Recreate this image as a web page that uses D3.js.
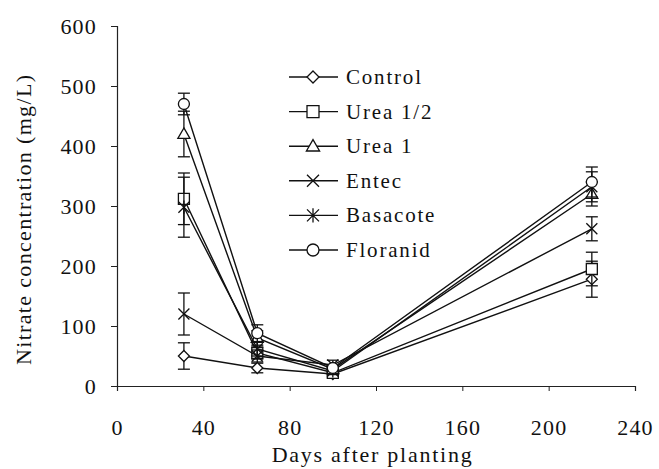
<!DOCTYPE html>
<html>
<head>
<meta charset="utf-8">
<script src="https://cdn.jsdelivr.net/npm/d3@7"></script>
<style>
body { margin: 0; background: #fff; }
svg text { font-family: 'Liberation Serif', 'Times New Roman', Times, serif !important; fill: #111; }
</style>
</head>
<body>
<div id="chart"></div>
<script>
var svgWidth = 659;
var svgHeight = 469;

var leftMargin = 117;
var topMargin = 26;
var chartWidth = 518;
var chartHeight = 360;

// data
var days = [31, 65, 100, 220];
var seriesNames = ['Control', 'Urea 1/2', 'Urea 1', 'Entec', 'Basacote', 'Floranid'];
var seriesMarkers = ['diamond', 'square', 'triangle', 'x', 'asterisk', 'circle'];
var controlValues = [50, 30, 20, 178];
var controlErr = [22, 8, 5, 30];
var urea12Values = [312, 55, 22, 195];
var urea12Err = [43, 10, 5, 28];
var urea1Values = [420, 80, 28, 320];
var urea1Err = [38, 12, 5, 20];
var entecValues = [120, 50, 35, 262];
var entecErr = [35, 10, 8, 20];
var basacoteValues = [298, 62, 25, 332];
var basacoteErr = [50, 12, 6, 25];
var floranidValues = [470, 88, 30, 340];
var floranidErr = [18, 14, 5, 25];
var xTicks = [0, 40, 80, 120, 160, 200, 240];
var yTicks = [0, 100, 200, 300, 400, 500, 600];

var allValues = [controlValues, urea12Values, urea1Values, entecValues, basacoteValues, floranidValues];
var allErr = [controlErr, urea12Err, urea1Err, entecErr, basacoteErr, floranidErr];

var series = seriesNames.map(function(name, i) {
    return {
        name: name,
        marker: seriesMarkers[i],
        points: days.map(function(d, j) {
            return {day: d, value: allValues[i][j], err: allErr[i][j]};
        })
    };
});

var svg = d3.select('#chart')
    .append('svg')
    .attr('width', svgWidth)
    .attr('height', svgHeight);

var chart = svg.append('g')
    .attr('transform', `translate(${leftMargin}, ${topMargin})`);

var xScale = d3.scaleLinear().domain([0, 240]).range([0, chartWidth]);
var yScale = d3.scaleLinear().domain([0, 600]).range([chartHeight, 0]);

var xAxis = chart.append('g')
    .attr('transform', `translate(0, ${chartHeight})`)
    .call(d3.axisBottom(xScale).tickValues(xTicks).tickSize(5).tickPadding(28));
var yAxis = chart.append('g')
    .call(d3.axisLeft(yScale).tickValues(yTicks).tickSize(6).tickPadding(14));

[xAxis, yAxis].forEach(function(ax) {
    ax.attr('font-family', null);
    ax.select('.domain').attr('stroke', '#222').attr('stroke-width', 1.2);
    ax.selectAll('.tick line').attr('stroke', '#222').attr('stroke-width', 1);
    ax.selectAll('.tick text')
        .attr('font-size', 22)
        .attr('letter-spacing', 1.2)
        .attr('fill', '#111');
});

chart.append('text')
    .attr('x', xScale(118))
    .attr('y', chartHeight + 76)
    .attr('text-anchor', 'middle')
    .attr('font-size', 22)
    .attr('textLength', 200)
    .attr('lengthAdjust', 'spacing')
    .text('Days after planting');

chart.append('text')
    .attr('transform', 'rotate(-90)')
    .attr('x', -194)
    .attr('y', -86)
    .attr('text-anchor', 'middle')
    .attr('font-size', 22)
    .attr('textLength', 290)
    .attr('lengthAdjust', 'spacing')
    .text('Nitrate concentration (mg/L)');

function markerPath(type, r) {
    if (type === 'diamond') return `M0,${-r}L${r},0L0,${r}L${-r},0Z`;
    if (type === 'square') return `M${-r},${-r}H${r}V${r}H${-r}Z`;
    if (type === 'triangle') return `M0,${-r * 1.1}L${r * 1.1},${r * 0.8}L${-r * 1.1},${r * 0.8}Z`;
    if (type === 'x') return `M${-r},${-r}L${r},${r}M${r},${-r}L${-r},${r}`;
    if (type === 'asterisk') return `M${-r},${-r}L${r},${r}M${r},${-r}L${-r},${r}M0,${-r * 1.2}V${r * 1.2}`;
    if (type === 'circle') return d3.arc()({innerRadius: 0, outerRadius: r, startAngle: 0, endAngle: 2 * Math.PI});
}

var line = d3.line()
    .x(d => xScale(d.day))
    .y(d => yScale(d.value));

var groups = chart.selectAll('.series')
    .data(series)
    .enter()
    .append('g')
    .attr('class', 'series');

groups.append('path')
    .attr('d', d => line(d.points))
    .attr('fill', 'none')
    .attr('stroke', '#111')
    .attr('stroke-width', 1.4);

var bars = groups.selectAll('.err')
    .data(d => d.points)
    .enter()
    .append('g')
    .attr('class', 'err')
    .attr('stroke', '#111')
    .attr('stroke-width', 1.3);

bars.append('line')
    .attr('x1', d => xScale(d.day)).attr('x2', d => xScale(d.day))
    .attr('y1', d => yScale(d.value + d.err)).attr('y2', d => yScale(d.value - d.err));
bars.append('line')
    .attr('x1', d => xScale(d.day) - 6).attr('x2', d => xScale(d.day) + 6)
    .attr('y1', d => yScale(d.value + d.err)).attr('y2', d => yScale(d.value + d.err));
bars.append('line')
    .attr('x1', d => xScale(d.day) - 6).attr('x2', d => xScale(d.day) + 6)
    .attr('y1', d => yScale(d.value - d.err)).attr('y2', d => yScale(d.value - d.err));

groups.each(function(s) {
    d3.select(this).selectAll('.mark')
        .data(s.points)
        .enter()
        .append('path')
        .attr('class', 'mark')
        .attr('transform', d => `translate(${xScale(d.day)}, ${yScale(d.value)})`)
        .attr('d', markerPath(s.marker, 5.5))
        .attr('fill', s.marker === 'x' || s.marker === 'asterisk' ? 'none' : '#fff')
        .attr('stroke', '#111')
        .attr('stroke-width', 1.3);
});

// legend
var legend = svg.append('g')
    .attr('transform', 'translate(289, 77)');

var entries = legend.selectAll('g')
    .data(series)
    .enter()
    .append('g')
    .attr('transform', (d, i) => `translate(0, ${i * 34.6})`);

entries.append('line')
    .attr('x1', 0).attr('x2', 49)
    .attr('y1', 0).attr('y2', 0)
    .attr('stroke', '#111')
    .attr('stroke-width', 1.4);

entries.append('path')
    .attr('transform', 'translate(24, 0)')
    .attr('d', d => markerPath(d.marker, 6))
    .attr('fill', d => d.marker === 'x' || d.marker === 'asterisk' ? 'none' : '#fff')
    .attr('stroke', '#111')
    .attr('stroke-width', 1.3);

entries.append('text')
    .attr('x', 57)
    .attr('y', 7)
    .attr('font-size', 21)
    .attr('letter-spacing', 1.8)
    .text(d => d.name);
</script>
</body>
</html>
